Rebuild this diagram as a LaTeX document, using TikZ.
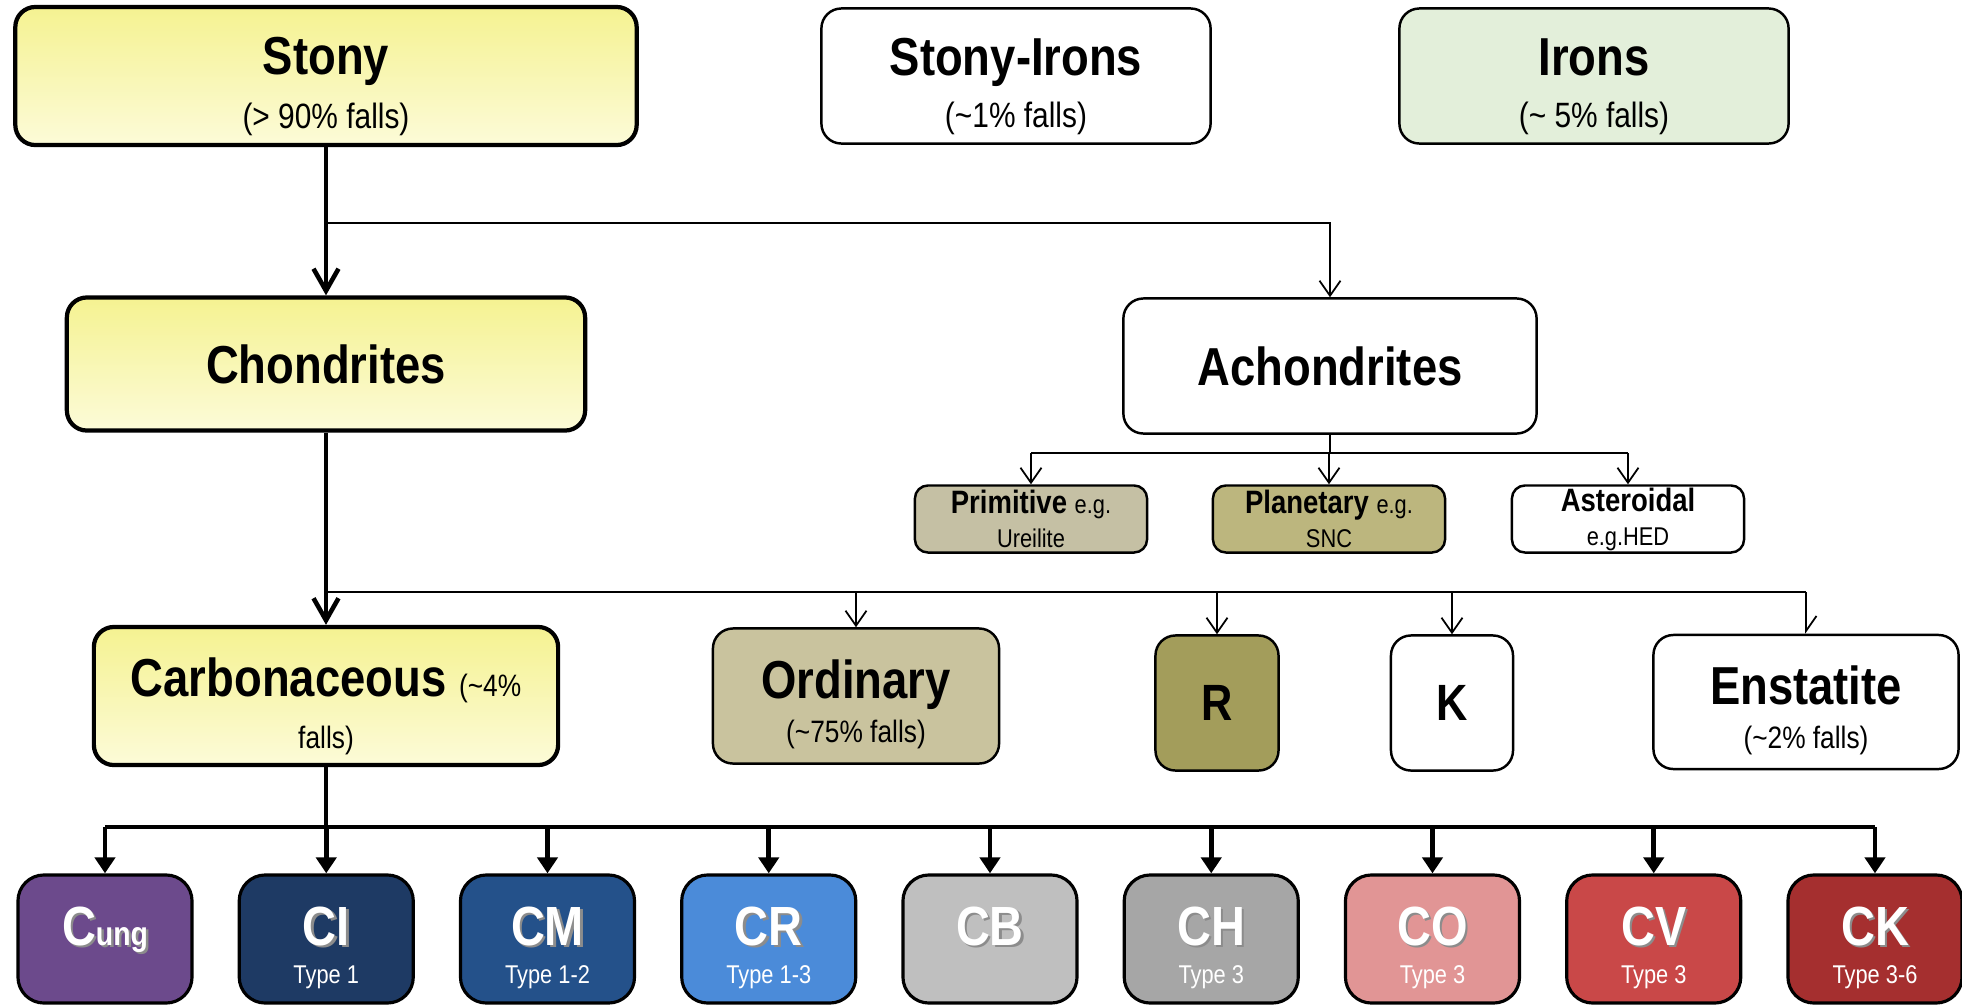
\documentclass[tikz,border=0pt]{standalone}
\usepackage{fontspec}
\setmainfont{Liberation Sans}[FakeStretch=0.85]
\usetikzlibrary{arrows.meta}
\definecolor{yTop}{HTML}{F5F291}
\definecolor{yBot}{HTML}{FCFBD8}
\definecolor{ironG}{HTML}{E3EFDA}
\definecolor{primC}{HTML}{C5C0A4}
\definecolor{planC}{HTML}{BCB67E}
\definecolor{ordC}{HTML}{C9C39E}
\definecolor{rC}{HTML}{A39D5B}
\definecolor{cungC}{HTML}{6C4A8C}
\definecolor{ciC}{HTML}{1E3A64}
\definecolor{cmC}{HTML}{24518A}
\definecolor{crC}{HTML}{4B8BD9}
\definecolor{cbC}{HTML}{BFBFBF}
\definecolor{chC}{HTML}{A6A6A6}
\definecolor{coC}{HTML}{E19595}
\definecolor{cvC}{HTML}{C94848}
\definecolor{ckC}{HTML}{A52F2F}
\newcommand\fsz[2]{\fontsize{#1}{#2}\selectfont}
\newcommand\bigt{\fsz{15.2}{18}\bfseries}
\newcommand\subt{\fsz{10}{12}\mdseries}
\newcommand\midt{\fsz{8.8}{11}\mdseries}
\newcommand\smt{\fsz{9.2}{11}\bfseries}
\newcommand\egt{\fsz{7.3}{9}\mdseries}
\newcommand\ct{\fsz{15.7}{18}\bfseries}
\newcommand\shd[1]{\makebox[0pt][l]{\kern0.7pt\raisebox{-0.7pt}{\textcolor{black!45}{#1}}}#1}
\begin{document}
\begin{tikzpicture}[x=0.01cm,y=-0.01cm,
    box/.style={draw,fill=white,line width=0.7pt,rounded corners=2mm,align=center,inner sep=0pt},
    ybox/.style={box,line width=1.2pt,top color=yTop,bottom color=yBot},
    sbox/.style={box,rounded corners=1.3mm,minimum width=2.32cm,minimum height=0.67cm,font=\fsz{7.3}{9.7}},
    cbox/.style={box,line width=0.9pt,rounded corners=2.6mm,minimum width=1.74cm,minimum height=1.28cm,text=white,font=\fsz{7.3}{10.8}},
    thinl/.style={line width=0.5pt},
    thina/.style={thinl,-{Straight Barb[length=1.5mm,width=2.1mm]}},
    thickl/.style={line width=1.3pt},
    thicka/.style={thickl,-{Straight Barb[length=2.2mm,width=2.5mm]}},
    tria/.style={thickl,-{Triangle[length=1.6mm,width=2mm]}}]
\useasboundingbox (0,0) rectangle (1962,1005);
\node[ybox,minimum width=6.21cm,minimum height=1.38cm,font=\fsz{10}{15.4}] (stony) at (326,76) {\rule{0pt}{16.4pt}\bigt Stony\\\subt(> 90\% falls)};
\node[box,minimum width=3.89cm,minimum height=1.35cm,font=\fsz{10}{14.8}] (stiron) at (1016,76) {\rule{0pt}{16.4pt}\bigt Stony-Irons\\\subt(\textasciitilde1\% falls)};
\node[box,fill=ironG,minimum width=3.89cm,minimum height=1.35cm,font=\fsz{10}{14.8}] (irons) at (1594,76) {\rule{0pt}{16.4pt}\bigt Irons\\\subt(\textasciitilde\ 5\% falls)};
\node[ybox,minimum width=5.18cm,minimum height=1.33cm] (chond) at (326,364) {\bigt Chondrites};
\node[box,minimum width=4.13cm,minimum height=1.35cm] (achon) at (1330,366) {\bigt Achondrites};
\node[sbox,fill=primC] (prim) at (1031,519) {\smt Primitive \egt e.g.\\\egt Ureilite};
\node[sbox,fill=planC] (plan) at (1329,519) {\smt Planetary \egt e.g.\\\egt SNC};
\node[sbox] (aster) at (1628,519) {\smt Asteroidal\\\egt e.g.HED};
\node[ybox,minimum width=4.64cm,minimum height=1.38cm,font=\fsz{8.8}{14.8}] (carb) at (326,696) {\rule{0pt}{16.7pt}\bigt Carbonaceous {\midt(\textasciitilde4\%}\\\midt falls)};
\node[box,fill=ordC,minimum width=2.86cm,minimum height=1.35cm,font=\fsz{9}{12.5}] (ordin) at (856,696) {\rule{0pt}{15.8pt}\bigt Ordinary\\\midt(\textasciitilde75\% falls)};
\node[box,fill=rC,minimum width=1.23cm,minimum height=1.35cm] (rb) at (1217,703) {\fsz{14.5}{17}\bfseries R};
\node[box,minimum width=1.22cm,minimum height=1.35cm] (kb) at (1452,703) {\fsz{14.5}{17}\bfseries K};
\node[box,minimum width=3.05cm,minimum height=1.34cm,font=\fsz{9}{12.5}] (enst) at (1806,702) {\rule{0pt}{15.8pt}\bigt Enstatite\\\midt(\textasciitilde2\% falls)};
\foreach \nm/\lbl/\typ/\col [count=\i from 0] in {cung/{C{\fsz{9.5}{10}ung}}/{}/cungC, ci/CI/Type 1/ciC, cm/CM/Type 1-2/cmC, cr/CR/Type 1-3/crC, cb/CB/{}/cbC, ch/CH/Type 3/chC, co/CO/Type 3/coC, cv/CV/Type 3/cvC, ck/CK/Type 3-6/ckC}
  \node[cbox,fill=\col] (\nm) at (105+221.25*\i,939) {\rule{0pt}{15.8pt}\ct\shd{\lbl}\\\egt\vphantom{y}\typ};
\coordinate (sbar) at (326,223);
\coordinate (abr) at (1330,453);
\coordinate (cbr) at (326,592);
\coordinate (cbar) at (326,827);
\draw[thicka] (stony.south) -- (chond.north);
\draw[thina] (sbar) -| (achon.north);
\draw[thinl] (achon.south) -- (abr);
\draw[thinl] (prim.north |- abr) -- (aster.north |- abr);
\foreach \nm in {prim,plan,aster}
  \draw[thina] (\nm.north |- abr) -- (\nm.north);
\draw[thicka] (chond.south) -- (carb.north);
\draw[thinl] (cbr) -- (enst.north |- cbr);
\foreach \nm in {ordin,rb,kb}
  \draw[thina] (\nm.north |- cbr) -- (\nm.north);
\draw[thinl,-{Straight Barb[length=1.5mm,width=2.1mm,left]}] (enst.north |- cbr) -- (enst.north);
\draw[thickl] (carb.south) -- (cbar);
\draw[thickl] (cung.north |- cbar) -- (ck.north |- cbar);
\foreach \nm in {cung,ci,cm,cr,cb,ch,co,cv,ck}
  \draw[tria] (\nm.north |- cbar) -- (\nm.north);
\end{tikzpicture}
\end{document}
